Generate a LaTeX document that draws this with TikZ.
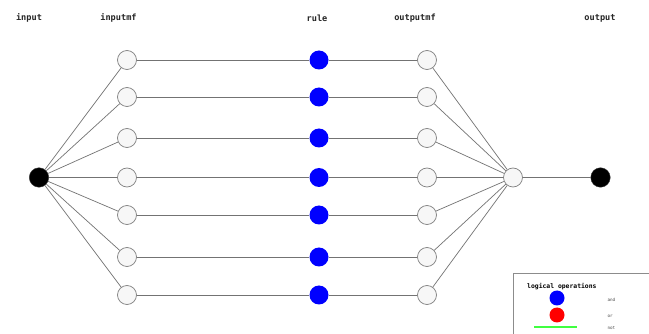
\documentclass[tikz,border=0pt]{standalone}
\usepackage{fontspec}
\newfontfamily\monobold{DejaVu Sans Mono}[BoldFont=* Bold]
\begin{document}
\begin{tikzpicture}[x=1pt,y=-1pt,
  edge/.style={draw=black!55, line width=0.7pt},
  mf/.style={circle, draw=black!50, fill=black!3, line width=0.7pt, minimum size=19pt, inner sep=0pt},
  term/.style={circle, fill=black, draw=black!80, minimum size=19.5pt, inner sep=0pt},
  rulenode/.style={circle, fill=blue, minimum size=19pt, inner sep=0pt},
  heading/.style={font=\monobold\bfseries\fontsize{8.6}{10}\selectfont, text=black!85},
  legtext/.style={font=\monobold\fontsize{4.3}{5}\selectfont, text=black!70, anchor=west}]
\useasboundingbox (0,0) rectangle (649,334);
\fill[white] (0,0) rectangle (649,334);

% column headings
\node[heading] (hin)   at (29,18)  {input};
\node[heading] (hinmf) at (118.5,18) {inputmf};
\node[heading] (hrule) at (317,18) {rule};
\node[heading] (houtmf) at (415,18) {outputmf};
\node[heading] (hout)  at (600,18) {output};

% terminal and aggregation nodes
\node[term] (in)  at (39,177.5) {};
\node[mf]   (agg) at (513,177.5) {};
\node[term] (out) at (600.5,177.5) {};

% rule rows: input mf -> rule -> output mf
\foreach \i/\y in {1/60,2/97,3/138,4/177.5,5/215,6/257,7/295}{
  \node[mf] (imf\i) at (127,\y) {};
  \node[rulenode] (r\i) at (319,\y) {};
  \node[mf] (omf\i) at (427,\y) {};
  \draw[edge] (in) -- (imf\i);
  \draw[edge] (imf\i) -- (r\i);
  \draw[edge] (r\i) -- (omf\i);
  \draw[edge] (omf\i) -- (agg);
}
\draw[edge] (agg) -- (out);

% legend
\draw[draw=black!45, line width=0.8pt] (513,334) |- (649,273);
\node[font=\monobold\bfseries\fontsize{6.4}{7}\selectfont, anchor=west, inner sep=0pt] (legtitle) at (527,287) {logical operations};
\node[circle, fill=blue, minimum size=15pt, inner sep=0pt] (land) at (557,298) {};
\node[circle, fill=red, minimum size=15pt, inner sep=0pt] (lor) at (557,315) {};
\coordinate (nota) at (534,327);
\coordinate (notb) at (577,327);
\draw[green!75!white, line width=1.6pt] (nota) -- (notb);
\node[legtext] (tand) at (604,300) {and};
\node[legtext] (tor)  at (604,316) {or};
\node[legtext] (tnot) at (604,328) {not};
\end{tikzpicture}
\end{document}
